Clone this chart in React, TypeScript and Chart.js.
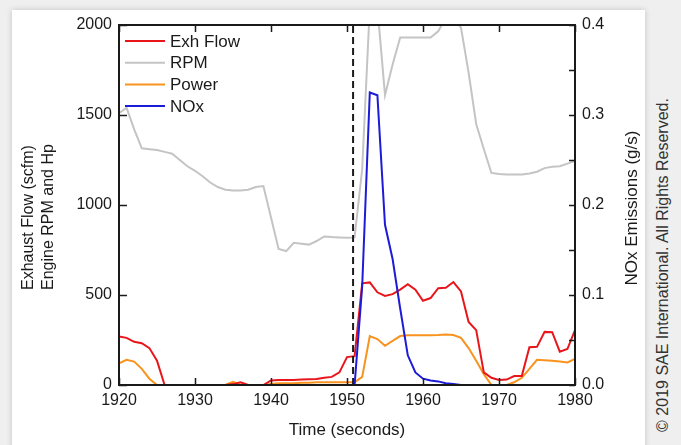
import React, { useEffect, useRef } from "react";
import { Chart, registerables } from "chart.js";
Chart.register(...registerables);

const TIME_S = [
  1920, 1921, 1922, 1923, 1924, 1925, 1926, 1927, 1928, 1929,
  1930, 1931, 1932, 1933, 1934, 1935, 1936, 1937, 1938, 1939,
  1940, 1941, 1942, 1943, 1944, 1945, 1946, 1947, 1948, 1949,
  1950, 1951, 1952, 1953, 1954, 1955, 1956, 1957, 1958, 1959,
  1960, 1961, 1962, 1963, 1964, 1965, 1966, 1967, 1968, 1969,
  1970, 1971, 1972, 1973, 1974, 1975, 1976, 1977, 1978, 1979,
  1980,
];

const EXH_FLOW = [
  270, 262, 240, 232, 205, 135, 0, 0, 0, 0,
  0, 0, 0, 0, 0, 5, 15, 0, 0, 0,
  25, 28, 28, 28, 30, 32, 33, 40, 45, 70,
  155, 160, 565, 570, 515, 495, 505, 530, 560, 530,
  468, 483, 538, 540, 572, 520, 350, 305, 70, 40,
  28, 30, 50, 50, 210, 212, 295, 293, 185, 200,
  305,
];

const ENGINE_RPM = [
  1510, 1540, 1420, 1315, 1310, 1305, 1295, 1285, 1250, 1215,
  1190, 1160, 1125, 1100, 1085, 1080, 1080, 1085, 1100, 1105,
  930, 756, 744, 790, 785, 780, 800, 825, 822, 820,
  818, 820, 1200, 2100, 2100, 1610, 1780, 1930, 1930, 1930,
  1930, 1930, 1965, 2040, 2040, 1985, 1735, 1450, 1311, 1178,
  1172, 1170, 1170, 1170, 1175, 1185, 1205, 1212, 1215, 1230,
  1245,
];

const POWER_HP = [
  120, 140, 130, 90, 35, 0, 0, 0, 0, 0,
  0, 0, 0, 0, 0, 18, 0, 0, 0, 0,
  5, 10, 10, 10, 12, 12, 15, 15, 15, 15,
  15, 15, 45, 272, 255, 218, 245, 272, 276, 276,
  276, 277, 278, 280, 278, 262, 205, 135, 60, 0,
  0, 0, 15, 40, 90, 140, 138, 135, 130, 125,
  145,
];

const NOX_GS = [
  0, 0, 0, 0, 0, 0, 0, 0, 0, 0,
  0, 0, 0, 0, 0, 0, 0, 0, 0, 0,
  0, 0, 0, 0, 0, 0, 0, 0, 0, 0,
  0, 0, 0.11, 0.325, 0.322, 0.178, 0.14, 0.085, 0.033, 0.014,
  0.007, 0.005, 0.004, 0.002, 0.001, 0, 0, 0, 0, 0,
  0, 0, 0, 0, 0, 0, 0, 0, 0, 0,
  0,
];

const EVENT_TIME = 1950.8;
const X_TICKS = [1920, 1930, 1940, 1950, 1960, 1970, 1980];
const LEFT_TICKS = [0, 500, 1000, 1500, 2000];
const RIGHT_TICKS = [0, 0.05, 0.1, 0.15, 0.2, 0.25, 0.3, 0.35, 0.4];
const SERIES_LABELS = ["Exh Flow", "RPM", "Power", "NOx"];
const SERIES_COLORS = ["#e8161b", "#c4c4c4", "#f7931e", "#1c1cd8"];

const LEFT_TITLE = ["Exhaust Flow (scfm)", "Engine RPM and Hp"];
const RIGHT_TITLE = "NOx Emissions (g/s)";
const X_TITLE = "Time (seconds)";
const COPYRIGHT = "\u00a9 2019 SAE International. All Rights Reserved.";

const FONT = "'Liberation Sans', Arial, Helvetica, sans-serif";
const INK = "#1a1a1a";

const pts = (vals: number[]) => TIME_S.map((t, i) => ({ x: t, y: vals[i] }));

const framePlugin = {
  id: "frame",
  afterDatasetsDraw(chart: any) {
    const { ctx, chartArea: a, scales } = chart;
    const x = scales.x;
    const y = scales.y;
    const y2 = scales.y2;
    ctx.save();
    ctx.strokeStyle = INK;
    ctx.lineWidth = 2;
    ctx.setLineDash([]);
    ctx.strokeRect(a.left, a.top, a.right - a.left, a.bottom - a.top);

    ctx.lineWidth = 1.5;
    ctx.beginPath();
    X_TICKS.forEach((t) => {
      const px = Math.round(x.getPixelForValue(t)) + 0.5;
      ctx.moveTo(px, a.bottom);
      ctx.lineTo(px, a.bottom - 7);
      ctx.moveTo(px, a.top);
      ctx.lineTo(px, a.top + 7);
    });
    LEFT_TICKS.forEach((v) => {
      const py = Math.round(y.getPixelForValue(v)) + 0.5;
      ctx.moveTo(a.left, py);
      ctx.lineTo(a.left + 8, py);
    });
    RIGHT_TICKS.forEach((v) => {
      const py = Math.round(y2.getPixelForValue(v)) + 0.5;
      ctx.moveTo(a.right, py);
      ctx.lineTo(a.right - 6, py);
    });
    ctx.stroke();

    // legend
    ctx.font = `17px ${FONT}`;
    ctx.textBaseline = "middle";
    ctx.textAlign = "left";
    SERIES_LABELS.forEach((lab, i) => {
      const ry = 41 + i * 21.7;
      ctx.strokeStyle = SERIES_COLORS[i];
      ctx.lineWidth = 2;
      ctx.beginPath();
      ctx.moveTo(a.left + 6, ry);
      ctx.lineTo(a.left + 46, ry);
      ctx.stroke();
      ctx.fillStyle = INK;
      ctx.fillText(lab, a.left + 51, ry + 1);
    });

    // titles
    ctx.fillStyle = INK;
    ctx.font = `16px ${FONT}`;
    ctx.textBaseline = "alphabetic";
    ctx.textAlign = "left";
    ctx.save();
    ctx.translate(33, 290);
    ctx.rotate(-Math.PI / 2);
    ctx.fillText(LEFT_TITLE[0], 0, 0);
    ctx.restore();
    ctx.save();
    ctx.translate(53, 290);
    ctx.rotate(-Math.PI / 2);
    ctx.fillText(LEFT_TITLE[1], 0, 0);
    ctx.restore();

    ctx.font = `17px ${FONT}`;
    ctx.textAlign = "center";
    ctx.save();
    ctx.translate(637, 208);
    ctx.rotate(-Math.PI / 2);
    ctx.fillText(RIGHT_TITLE, 0, 0);
    ctx.restore();

    ctx.fillText(X_TITLE, (a.left + a.right) / 2, 435);
    ctx.restore();
  },
};

export default function App() {
  const ref = useRef<HTMLCanvasElement | null>(null);
  useEffect(() => {
    if (!ref.current) return;
    const chart = new Chart(ref.current, {
      type: "line",
      data: {
        datasets: [
          {
            label: "event",
            data: [
              { x: EVENT_TIME, y: 0 },
              { x: EVENT_TIME, y: 2000 },
            ],
            borderColor: INK,
            borderWidth: 2,
            borderDash: [7, 4],
            pointRadius: 0,
            yAxisID: "y",
            order: 1,
          },
          {
            label: SERIES_LABELS[3],
            data: pts(NOX_GS),
            borderColor: SERIES_COLORS[3],
            borderWidth: 2,
            pointRadius: 0,
            yAxisID: "y2",
            order: 0,
          },
          {
            label: SERIES_LABELS[0],
            data: pts(EXH_FLOW),
            borderColor: SERIES_COLORS[0],
            borderWidth: 2,
            pointRadius: 0,
            yAxisID: "y",
            order: 2,
          },
          {
            label: SERIES_LABELS[2],
            data: pts(POWER_HP),
            borderColor: SERIES_COLORS[2],
            borderWidth: 2,
            pointRadius: 0,
            yAxisID: "y",
            order: 3,
          },
          {
            label: SERIES_LABELS[1],
            data: pts(ENGINE_RPM),
            borderColor: SERIES_COLORS[1],
            borderWidth: 2,
            pointRadius: 0,
            yAxisID: "y",
            order: 4,
          },
        ],
      },
      options: {
        animation: false,
        responsive: false,
        maintainAspectRatio: false,
        layout: { padding: { top: 25, left: 0, right: 0, bottom: 0 } },
        plugins: { legend: { display: false }, tooltip: { enabled: false } },
        elements: { line: { tension: 0 } },
        scales: {
          x: {
            type: "linear",
            position: "bottom",
            min: 1920,
            max: 1980,
            ticks: {
              stepSize: 10,
              padding: 6,
              color: INK,
              font: { family: FONT, size: 16 },
              callback: (v: any) => String(v),
              maxRotation: 0,
            },
            grid: { display: false, drawTicks: false },
            border: { display: false },
            afterFit: (s: any) => {
              s.height = 60;
            },
          },
          y: {
            position: "left",
            min: 0,
            max: 2000,
            ticks: {
              stepSize: 500,
              padding: 7,
              color: INK,
              font: { family: FONT, size: 16 },
              callback: (v: any) => String(v),
            },
            grid: { display: false, drawTicks: false },
            border: { display: false },
            afterFit: (s: any) => {
              s.width = 119;
            },
          },
          y2: {
            position: "right",
            min: 0,
            max: 0.4,
            ticks: {
              stepSize: 0.1,
              padding: 7,
              color: INK,
              font: { family: FONT, size: 16 },
              callback: (v: any) => Number(v).toFixed(1),
            },
            grid: { display: false, drawTicks: false },
            border: { display: false },
            afterFit: (s: any) => {
              s.width = 70;
            },
          },
        },
      },
      plugins: [framePlugin],
    } as any);
    return () => chart.destroy();
  }, []);

  return (
    <div
      style={{
        position: "fixed",
        left: 0,
        top: 0,
        width: 681,
        height: 445,
        overflow: "hidden",
        background: "#efefef",
      }}
    >
      <div
        style={{
          position: "absolute",
          left: 12,
          top: 10,
          width: 633,
          height: 460,
          background: "#ffffff",
          boxShadow: "0 0 6px rgba(0,0,0,0.18)",
        }}
      />
      <canvas
        ref={ref}
        width={645}
        height={445}
        style={{ position: "absolute", left: 0, top: 0, width: 645, height: 445 }}
      />
      <div
        style={{
          position: "absolute",
          left: 663 - 190,
          top: 265 - 10,
          width: 380,
          height: 20,
          lineHeight: "20px",
          transform: "rotate(-90deg)",
          transformOrigin: "50% 50%",
          textAlign: "center",
          fontFamily: FONT,
          fontSize: 16,
          color: "#333",
          whiteSpace: "nowrap",
        }}
      >
        {COPYRIGHT}
      </div>
    </div>
  );
}
